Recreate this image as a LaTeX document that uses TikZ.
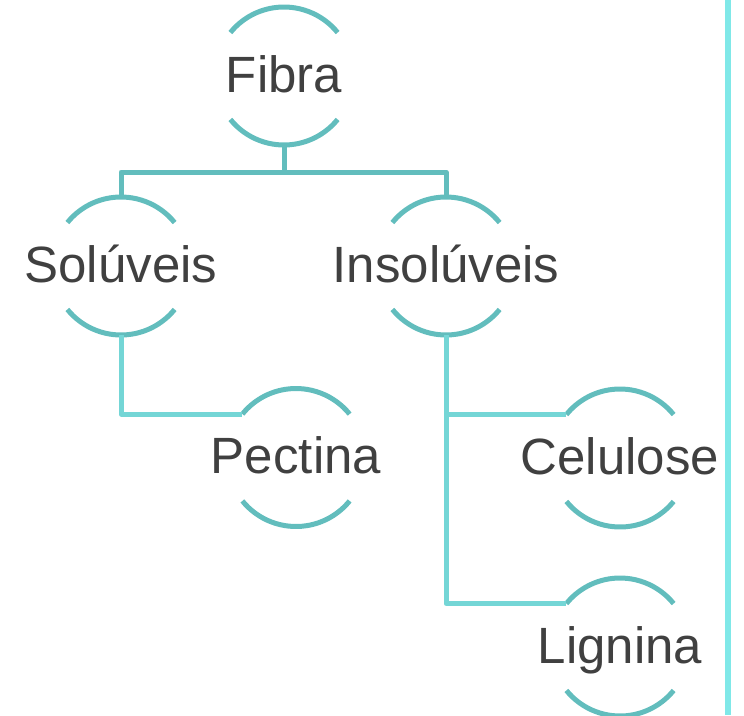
\documentclass[tikz,border=0pt]{standalone}
\usepackage{fontspec}
\setmainfont{Liberation Sans}
\begin{document}
\begin{tikzpicture}[x=1pt,y=1pt,
  term/.style={inner sep=0pt,text height=32pt,text depth=0pt,
    text=textgray,font=\fontsize{51}{60}\selectfont},
  bracket/.style={draw=arcteal,line width=5pt},
  trunk/.style={draw=arcteal,line width=5pt,line join=round},
  branch/.style={draw=linkcyan,line width=5pt,line join=round},
  sidebar/.style={draw=barcyan,line width=6pt}]
\definecolor{arcteal}{HTML}{62BDBD}
\definecolor{linkcyan}{HTML}{74D6D6}
\definecolor{barcyan}{HTML}{80E8E8}
\definecolor{textgray}{HTML}{404040}
\useasboundingbox (0,0) rectangle (744,-715);

% terms
\node[term] (fib) at (284,-76)    {Fibra};
\node[term] (sol) at (121,-266)   {Solúveis};
\node[term] (ins) at (446,-266)   {Insolúveis};
\node[term] (pec) at (296,-457.5) {Pectina};
\node[term] (cel) at (620,-458)   {Celulose};
\node[term] (lig) at (620,-647)   {Lignina};

% upper and lower brackets around every term
\foreach \n in {fib,sol,ins,pec,cel,lig}{
  \draw[bracket] ([shift={(39:69)}]\n.center) arc (39:141:69);
  \draw[bracket] ([shift={(219:69)}]\n.center) arc (219:321:69);
  \coordinate (\n-top) at ([yshift=69]\n.center);
  \coordinate (\n-bot) at ([yshift=-69]\n.center);
  \coordinate (\n-tip) at ([shift={(141:69)}]\n.center);
}

% first level
\draw[trunk] (fib-bot) -- ++(0,-27) coordinate (split);
\draw[trunk] (sol-top) |- (split) -| (ins-top);

% second level
\draw[branch] (sol-bot) |- (pec-tip);
\draw[branch] (ins-bot) |- (lig-tip);
\draw[branch] (ins-bot |- cel-tip) -- (cel-tip);

% side rule
\coordinate (bartop) at (728,0);
\coordinate (barbot) at (728,-715);
\draw[sidebar] (bartop) -- (barbot);
\end{tikzpicture}
\end{document}
